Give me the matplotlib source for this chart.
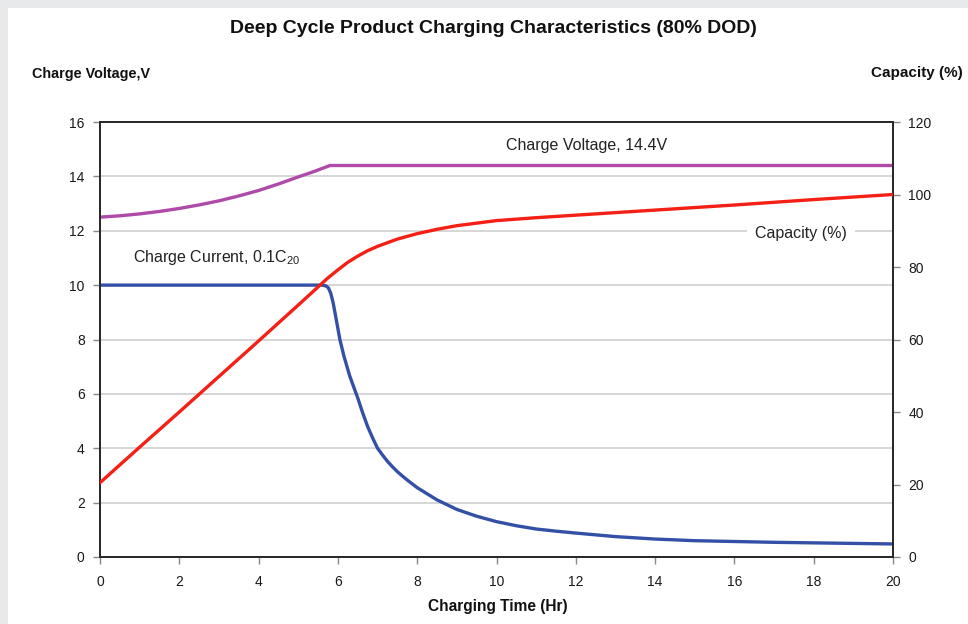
import matplotlib
matplotlib.use("Agg")
import matplotlib.pyplot as plt
from matplotlib.patches import Rectangle

plt.rcParams['font.family'] = ['Liberation Sans', 'DejaVu Sans']
plt.rcParams['mathtext.fontset'] = 'custom'
plt.rcParams['mathtext.rm'] = 'Liberation Sans'
plt.rcParams['mathtext.it'] = 'Liberation Sans'

# ---- data ----
volt_t = [0, 0.5, 1, 1.5, 2, 2.5, 3, 3.5, 4, 4.5, 5, 5.4, 5.8, 20]
volt_v = [12.5, 12.55, 12.62, 12.71, 12.82, 12.95, 13.1, 13.28, 13.48, 13.72,
          13.98, 14.18, 14.4, 14.4]

cap_t = [0, 1, 2, 3, 4, 5, 5.5, 5.75, 6, 6.25, 6.5, 6.75, 7, 7.5, 8, 8.5, 9, 9.5,
         10, 11, 12, 13, 14, 16, 18, 20]
cap_v = [20.5, 30.3, 40, 49.8, 59.6, 69.5, 74.5, 77.0, 79.2, 81.3, 83.0, 84.5,
         85.7, 87.7, 89.2, 90.4, 91.4, 92.1, 92.8, 93.6, 94.3, 95.0, 95.7, 97.1,
         98.6, 100]

cur_t = [0, 5.6, 5.7, 5.76, 5.82, 5.88, 5.95, 6.05, 6.15, 6.3, 6.5, 6.625, 6.75,
         6.875, 7.0, 7.125, 7.25, 7.375, 7.5, 7.625, 7.75, 8, 8.5, 9, 9.5, 10,
         10.5, 11, 11.5, 12, 13, 14, 15, 16, 17, 18, 19, 20]
cur_v = [10, 10, 9.97, 9.9, 9.7, 9.35, 8.8, 8.0, 7.4, 6.65, 5.85, 5.3, 4.8,
         4.38, 4.0, 3.75, 3.52, 3.32, 3.14, 2.98, 2.83, 2.55, 2.1, 1.75, 1.5, 1.3,
         1.15, 1.03, 0.95, 0.88, 0.75, 0.66, 0.6, 0.57, 0.54, 0.52, 0.5, 0.48]

x_ticks = [0, 2, 4, 6, 8, 10, 12, 14, 16, 18, 20]
left_ticks = [0, 2, 4, 6, 8, 10, 12, 14, 16]
right_ticks = [0, 20, 40, 60, 80, 100, 120]

title = "Deep Cycle Product Charging Characteristics (80% DOD)"

# ---- figure ----
fig = plt.figure(figsize=(9.68, 6.24), dpi=100, facecolor='white')
fig.patches.append(Rectangle((0, 1 - 8 / 624), 1, 8 / 624, transform=fig.transFigure,
                             facecolor='#e8e9eb', edgecolor='none', zorder=0))
fig.patches.append(Rectangle((0, 0), 8 / 968, 1, transform=fig.transFigure,
                             facecolor='#e8e9eb', edgecolor='none', zorder=0))

ax = fig.add_axes([100 / 968, 67 / 624, 793 / 968, 435 / 624])
ax2 = ax.twinx()

spine_c = '#2a2a2a'
for a in (ax, ax2):
    for s in a.spines.values():
        s.set_color(spine_c)
        s.set_linewidth(1.4)

ax.set_xlim(0, 20)
ax.set_ylim(0, 16)
ax2.set_ylim(0, 120)
ax.set_xticks(x_ticks)
ax.set_yticks(left_ticks)
ax2.set_yticks(right_ticks)

for yv in left_ticks[1:-1]:
    ax.axhline(yv, color='#d6d6d6', lw=1.4, zorder=0)

ax.tick_params(axis='both', direction='out', length=5, width=1, color='#888888',
               labelsize=10, labelcolor='#1a1a1a', pad=6)
ax.tick_params(axis='x', pad=8)
ax2.tick_params(axis='y', direction='out', length=5, width=1, color='#888888',
                labelsize=10, labelcolor='#1a1a1a', pad=6)

ax.plot(volt_t, volt_v, color='#b04aa8', lw=2.4, solid_capstyle='butt',
        solid_joinstyle='round', zorder=3)
ax.plot(cur_t, cur_v, color='#3350a6', lw=2.4, solid_joinstyle='round', zorder=3)
ax2.plot(cap_t, cap_v, color='#f52015', lw=2.4, solid_joinstyle='round', zorder=3)

ax.text(12.26, 15.15, "Charge Voltage, 14.4V", fontsize=11.5, ha='center', va='center',
        color='#222222')
ax.text(2.95, 11.0, r"Charge Current, 0.1C$_{20}$", fontsize=11.5, ha='center',
        va='center', color='#222222')
ax.text(17.68, 11.9, "Capacity (%)", fontsize=11.5, ha='center', va='center',
        color='#222222', bbox=dict(facecolor='white', edgecolor='none', pad=6), zorder=4)

fig.text(493 / 968, 1 - 28.5 / 624, title, fontsize=14, fontweight='bold',
         ha='center', va='center', color='#111111')
fig.text(32 / 968, 1 - 74 / 624, "Charge Voltage,V", fontsize=10.4, fontweight='bold',
         ha='left', va='center', color='#111111')
fig.text(963 / 968, 1 - 73.5 / 624, "Capacity (%)", fontsize=11, fontweight='bold',
         ha='right', va='center', color='#111111')
fig.text(498 / 968, 1 - 606 / 624, "Charging Time (Hr)", fontsize=11.2, fontweight='bold',
         ha='center', va='center', color='#111111')

fig.savefig("out.png", dpi=100, facecolor=fig.get_facecolor())
